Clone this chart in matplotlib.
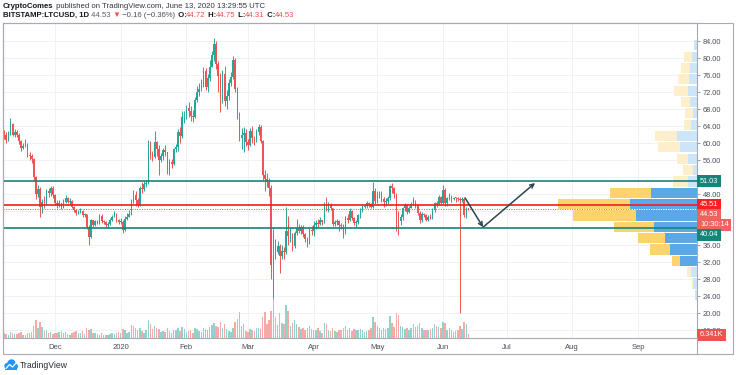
import matplotlib
matplotlib.use('Agg')
import matplotlib.pyplot as plt
import matplotlib.dates as mdates
import matplotlib.transforms as mtransforms
from matplotlib.patches import Rectangle, Circle
from matplotlib.lines import Line2D
from matplotlib.ticker import FixedLocator, FixedFormatter, FuncFormatter
import numpy as np
import pandas as pd

plt.rcParams['font.family'] = ['Liberation Sans', 'DejaVu Sans']

# BITSTAMP:LTCUSD daily candles, 7 Nov 2019 .. 13 Jun 2020
dates = pd.date_range('2019-11-07', '2020-06-13', freq='D')
first_open = 62.6

close_nov = [62.0, 60.8, 62.2, 64.5, 62.0, 62.6, 62.0, 60.4, 58.8, 59.4, 59.8, 57.2, 57.0, 56.2, 52.0, 48.0,
             49.2, 45.0, 46.2, 45.8, 48.6, 48.2, 49.4, 47.8]
high_nov = [63.0, 62.5, 62.8, 66.0, 64.8, 63.4, 63.0, 62.3, 60.6, 60.0, 61.0, 60.0, 58.0, 57.5, 56.5, 52.3,
            50.2, 49.6, 46.8, 47.5, 49.2, 49.5, 50.0, 49.8]
low_nov = [61.0, 60.0, 60.5, 61.8, 61.6, 61.5, 61.5, 59.8, 58.2, 58.6, 59.0, 56.6, 56.0, 55.3, 51.0, 46.8,
           47.2, 42.5, 43.5, 44.8, 45.5, 47.4, 47.6, 47.0]

close_dec = [46.0, 45.4, 45.8, 45.0, 46.2, 47.0, 46.2, 46.4, 45.0, 44.2, 43.6, 43.9, 44.0, 43.0, 43.2, 40.2,
             37.8, 41.8, 40.8, 41.6, 41.2, 42.8, 41.6, 41.4, 40.6, 40.9, 41.9, 42.7, 43.4, 41.8, 41.4]
high_dec = [48.0, 46.5, 46.6, 46.0, 46.8, 47.8, 47.2, 47.0, 46.6, 45.2, 44.4, 44.3, 44.6, 44.2, 43.6, 43.3,
            40.6, 42.2, 42.0, 42.0, 41.8, 43.4, 43.2, 42.0, 41.6, 41.4, 42.3, 43.1, 44.0, 43.6, 42.2]
low_dec = [45.5, 44.6, 45.0, 44.4, 44.8, 46.0, 45.8, 45.6, 44.6, 43.7, 43.1, 43.2, 43.5, 42.6, 42.7, 39.7,
           36.0, 37.6, 40.3, 40.5, 40.9, 41.0, 41.2, 40.9, 40.0, 40.3, 40.6, 41.7, 42.6, 41.5, 40.9]

close_jan = [41.5, 39.6, 42.2, 42.7, 43.2, 46.3, 47.7, 46.6, 45.5, 49.3, 49.2, 50.4, 50.6, 58.4, 57.4, 56.8,
             60.2, 58.6, 56.0, 57.0, 58.3, 57.8, 53.8, 55.5, 55.0, 58.5, 59.0, 62.6, 61.6, 66.2, 66.4]
high_jan = [42.4, 41.8, 42.8, 43.5, 44.2, 46.8, 49.0, 48.6, 47.0, 50.0, 50.8, 51.0, 51.2, 60.8, 60.5, 58.2,
            62.8, 60.5, 59.5, 57.6, 58.8, 59.5, 57.8, 56.2, 56.2, 58.8, 59.8, 63.4, 63.8, 67.5, 67.6]
low_jan = [40.9, 38.8, 39.2, 41.8, 42.5, 43.0, 45.8, 45.2, 45.0, 45.2, 48.2, 48.6, 49.6, 50.4, 56.2, 55.8,
           56.5, 56.9, 52.5, 55.5, 56.0, 57.0, 52.8, 52.5, 54.2, 54.8, 57.8, 58.2, 60.0, 61.2, 64.8]

close_feb = [68.3, 67.6, 66.4, 66.2, 70.2, 72.0, 72.6, 74.0, 77.0, 73.2, 75.4, 78.0, 80.6, 83.2, 78.6, 75.8,
             70.6, 76.2, 69.8, 71.0, 74.2, 75.6, 79.6, 72.6, 66.8, 61.2, 61.8, 62.4, 60.2]
high_feb = [69.0, 69.6, 68.8, 67.8, 70.8, 73.4, 74.2, 75.0, 78.0, 77.6, 76.2, 79.6, 81.6, 84.6, 84.0, 79.2,
            76.4, 77.2, 78.2, 72.4, 75.0, 76.6, 80.4, 80.0, 73.2, 67.4, 63.6, 63.8, 63.4]
low_feb = [65.6, 66.2, 65.2, 65.0, 65.8, 69.6, 71.0, 72.2, 73.2, 72.4, 72.0, 74.6, 77.8, 79.4, 77.4, 72.0,
           67.2, 69.4, 68.8, 68.0, 70.2, 73.4, 75.0, 72.0, 65.6, 60.4, 58.6, 58.0, 59.2]

close_mar = [59.6, 62.8, 61.2, 60.6, 62.6, 63.8, 60.4, 52.4, 51.6, 50.8, 49.4, 31.2, 36.8, 34.4, 35.8, 33.4,
             34.6, 34.4, 39.2, 38.2, 38.4, 35.8, 38.8, 40.0, 39.4, 40.2, 38.6, 37.4, 36.4, 39.6, 39.2]
high_mar = [61.0, 63.6, 64.0, 61.6, 63.2, 64.4, 64.2, 60.6, 53.6, 53.0, 51.8, 50.2, 40.0, 37.4, 37.0, 36.2,
            36.0, 35.6, 45.0, 42.8, 40.0, 38.8, 39.4, 42.2, 41.0, 40.8, 40.6, 38.8, 37.8, 40.0, 40.4]
low_mar = [58.4, 59.2, 60.0, 59.6, 60.2, 62.0, 60.0, 51.4, 48.6, 49.6, 47.6, 28.0, 23.6, 32.6, 34.0, 29.4,
           32.6, 32.8, 33.8, 36.0, 36.8, 34.6, 35.2, 38.4, 38.8, 38.6, 37.8, 36.8, 35.6, 36.2, 38.4]

close_apr = [40.6, 41.2, 41.0, 41.9, 41.4, 45.8, 44.4, 45.6, 44.6, 41.0, 41.3, 41.6, 40.8, 40.5, 39.0, 42.4,
             42.0, 44.0, 42.4, 41.2, 41.3, 43.0, 44.2, 44.9, 45.2, 45.8, 45.6, 45.0, 48.8, 46.3]
high_apr = [41.6, 41.8, 42.2, 42.6, 42.0, 46.2, 47.4, 46.2, 45.8, 44.8, 41.9, 42.2, 41.8, 41.2, 41.0, 42.8,
            43.2, 44.8, 44.2, 42.6, 42.0, 43.4, 44.8, 45.4, 45.6, 46.4, 46.2, 46.0, 50.8, 49.4]
low_apr = [38.2, 39.8, 40.2, 40.6, 40.8, 41.2, 44.0, 43.8, 44.2, 40.4, 40.4, 40.8, 39.4, 39.8, 37.6, 38.6,
           41.2, 41.6, 42.0, 40.6, 40.2, 41.0, 42.4, 43.8, 44.6, 44.8, 45.0, 44.6, 44.8, 45.6]

close_may = [47.6, 48.2, 46.9, 46.1, 46.3, 47.0, 49.8, 49.4, 48.0, 43.2, 41.6, 42.6, 44.6, 45.4, 43.8, 44.8,
             45.7, 46.3, 45.3, 43.6, 41.8, 43.2, 43.1, 42.0, 42.7, 42.5, 44.2, 45.8, 45.6, 47.3, 46.0]
high_may = [48.6, 48.8, 48.8, 47.2, 47.0, 47.6, 50.2, 50.6, 49.6, 48.2, 44.0, 43.2, 45.0, 46.0, 45.6, 45.2,
            46.2, 47.2, 46.6, 45.6, 44.0, 43.8, 43.6, 43.4, 43.0, 43.4, 44.6, 46.2, 46.4, 47.8, 47.6]
low_may = [46.0, 47.0, 46.2, 45.0, 45.2, 45.6, 46.6, 48.2, 47.0, 39.4, 38.4, 40.8, 42.0, 44.0, 43.2, 43.6,
           44.6, 45.4, 44.6, 43.0, 41.2, 41.4, 42.6, 41.6, 41.6, 42.2, 42.2, 43.8, 45.0, 45.4, 45.6]

close_jun = [49.0, 45.8, 47.0, 47.4, 46.8, 47.1, 47.0, 46.9, 46.6, 46.8, 43.0, 44.7, 44.53]
high_jun = [50.2, 49.4, 47.4, 48.2, 47.8, 47.4, 47.4, 47.4, 47.2, 47.2, 47.0, 45.0, 44.75]
low_jun = [45.6, 45.2, 45.2, 46.6, 46.2, 46.6, 46.2, 46.4, 20.0, 46.2, 42.6, 42.4, 44.31]

# daily volume, thousands
vol_nov = [8, 6, 5, 9, 7, 6, 6, 8, 9, 5, 4, 8, 7, 9, 18, 27, 14, 24, 16, 10, 12, 8, 9, 6]
vol_dec = [7, 8, 9, 10, 8, 9, 6, 5, 8, 9, 10, 8, 7, 10, 6, 14, 12, 13, 8, 7, 6, 5, 7, 5, 4, 5, 6, 7, 6, 8, 9]
vol_jan = [7, 13, 12, 8, 9, 19, 17, 15, 11, 14, 10, 8, 11, 27, 20, 13, 18, 14, 13, 9, 10, 9, 14, 10, 8, 11,
           12, 15, 10, 16, 13]
vol_feb = [9, 10, 12, 8, 15, 13, 10, 9, 14, 13, 12, 16, 19, 22, 17, 16, 24, 14, 20, 13, 10, 9, 14, 24, 28,
           38, 18, 20, 10]
vol_mar = [9, 13, 12, 10, 14, 15, 13, 30, 38, 20, 26, 40, 98, 30, 19, 36, 22, 21, 48, 40, 18, 22, 26, 20,
           16, 13, 14, 12, 15, 17, 13]
vol_apr = [12, 11, 14, 10, 8, 22, 20, 12, 10, 15, 10, 9, 11, 12, 14, 18, 12, 14, 10, 13, 11, 12, 13, 12, 9,
           10, 11, 14, 30, 24]
vol_may = [17, 14, 12, 14, 13, 15, 32, 22, 16, 36, 33, 18, 16, 13, 14, 12, 14, 20, 16, 18, 22, 14, 12, 11,
           12, 13, 14, 20, 18, 16, 15]
vol_jun = [24, 22, 12, 14, 11, 9, 10, 12, 18, 13, 24, 20, 6.341]

# volume profile (visible range): rows from the bottom up
vp_bottom = 23.06
vp_step = 2.67
vp_up = [2, 4, 6, 17, 27, 32, 43, 61, 67, 46, 9, 4, 9, 17, 20, 6, 4, 7, 9, 8, 7, 5, 3]
vp_down = [0, 1, 4, 8, 20, 27, 40, 63, 72, 41, 15, 10, 11, 22, 22, 7, 8, 9, 14, 11, 9, 8, 0]
value_area = (31.0, 49.8)

# drawn levels and the forecast arrows
support_res = [51.03, 40.04]
red_level = 45.51
last_price = 44.53
arrow_path = [('2020-06-11 09:00', 47.1), ('2020-06-19 22:00', 40.2), ('2020-07-14 10:00', 50.6)]

month_ticks = ['2019-12-01', '2020-01-01', '2020-02-01', '2020-03-01', '2020-04-01', '2020-05-01',
               '2020-06-01', '2020-07-01', '2020-08-01', '2020-09-01']
month_labels = ['Dec', '2020', 'Feb', 'Mar', 'Apr', 'May', 'Jun', 'Jul', 'Aug', 'Sep']
hidden_price_labels = [40, 44]   # covered by the price tags

closes = close_nov + close_dec + close_jan + close_feb + close_mar + close_apr + close_may + close_jun
highs = high_nov + high_dec + high_jan + high_feb + high_mar + high_apr + high_may + high_jun
lows = low_nov + low_dec + low_jan + low_feb + low_mar + low_apr + low_may + low_jun
volumes = vol_nov + vol_dec + vol_jan + vol_feb + vol_mar + vol_apr + vol_may + vol_jun

UP = '#26a69a'
DOWN = '#ef5350'
TEAL = '#15857a'
GRID = '#eef1f6'
FRAME = '#a7aab2'
TXT = '#131722'

W, H = 736, 375
fig = plt.figure(figsize=(W / 100, H / 100), dpi=100)
ax = fig.add_axes([3 / W, 1 - 338 / H, 694 / W, 315 / H])

x = mdates.date2num(dates)
c = np.array(closes)
o = np.array([first_open] + closes[:-1])
hi = np.maximum(np.array(highs), np.maximum(o, c))
lo = np.minimum(np.array(lows), np.minimum(o, c))
rising = c >= o

# volume profile, anchored to the right edge
vp_trans = mtransforms.blended_transform_factory(ax.transAxes, ax.transData)
vp_span = 5.0 * max(u + d for u, d in zip(vp_up, vp_down))
rows = vp_bottom + vp_step * np.arange(len(vp_up))
up_w = np.array(vp_up) / vp_span
dn_w = np.array(vp_down) / vp_span
in_va = (rows >= value_area[0]) & (rows + vp_step <= value_area[1])
ax.barh(rows, up_w, left=1 - up_w, height=vp_step * 0.9, align='edge',
        color=np.where(in_va, '#5aa9e6', '#cde5f8'), lw=0, transform=vp_trans, zorder=1)
ax.barh(rows, dn_w, left=1 - up_w - dn_w, height=vp_step * 0.9, align='edge',
        color=np.where(in_va, '#fdd36e', '#fcefc9'), lw=0, transform=vp_trans, zorder=1)

# volume bars at the bottom
VOL_TOP = 460.0
vol_trans = mtransforms.blended_transform_factory(ax.transData, ax.transAxes)
ax.bar(x, np.array(volumes) / VOL_TOP, width=0.7, bottom=0,
       color=np.where(rising, '#92d2cc', '#f7a9a7'), lw=0, transform=vol_trans, zorder=2)

# candles
cols = np.where(rising, UP, DOWN)
ax.vlines(x, lo, hi, colors=cols, lw=0.7, zorder=3)
ax.bar(x, np.maximum(np.abs(c - o), 0.2), bottom=np.minimum(o, c), width=0.7, color=cols, lw=0, zorder=4)

# horizontal levels
for lvl in support_res:
    ax.axhline(lvl, color=TEAL, lw=1.2, zorder=5)
ax.axhline(red_level, color='#f01d1d', lw=1.2, zorder=5)
ax.axhline(last_price, color=DOWN, lw=0.7, ls=(0, (1, 1.5)), zorder=5)

# forecast arrows
pts = [(mdates.date2num(pd.Timestamp(d)), p) for d, p in arrow_path]
for a, b in zip(pts[:-1], pts[1:]):
    ax.annotate('', xy=b, xytext=a,
                arrowprops=dict(arrowstyle='->', color='#2b4650', lw=1.1, shrinkA=0, shrinkB=0,
                                mutation_scale=7), zorder=6)

# axes
ax.set_xlim(mdates.date2num(pd.Timestamp('2019-11-06 12:00')), mdates.date2num(pd.Timestamp('2020-09-28 19:00')))
ax.set_ylim(14.12, 88.24)
ax.set_axisbelow(True)
ax.xaxis.set_major_locator(FixedLocator(mdates.date2num(pd.to_datetime(month_ticks))))
ax.xaxis.set_major_formatter(FixedFormatter(month_labels))
ax.set_yticks(np.arange(16, 85, 4))
ax.yaxis.set_major_formatter(FuncFormatter(
    lambda v, p: '' if round(v) in hidden_price_labels else f'{v:.2f}'))
ax.yaxis.tick_right()
ax.tick_params(axis='x', length=0, pad=4, labelsize=5.5, labelcolor='#4a4e58')
ax.tick_params(axis='y', length=2.5, width=0.6, color='#8a8d95', pad=1.5, labelsize=5.3, labelcolor='#4a4e58')
ax.grid(True, color=GRID, lw=0.7)
for sp in ax.spines.values():
    sp.set_color(FRAME)
    sp.set_linewidth(0.8)

# price / volume tags on the scale
tags = [(support_res[0], 0, '51.03', TEAL),
        (red_level, 0, '45.51', '#ff1f1f'),
        (last_price, -6, '44.53', '#f0625f'),
        (last_price, -16, '10:30:14', '#f0625f'),
        (support_res[1], -7, '40.04', TEAL)]
for price, dy, label, colr in tags:
    ax.annotate(label, xy=(1, price), xycoords=vp_trans, xytext=(3, dy), textcoords='offset pixels',
                ha='left', va='center', fontsize=5.3, color='white', annotation_clip=False, zorder=10,
                bbox=dict(boxstyle='square,pad=0.35', fc=colr, ec='none'))
ax.annotate(f'{volumes[-1]:.3f}K', xy=(1, volumes[-1] / VOL_TOP), xycoords='axes fraction',
            xytext=(3, -1), textcoords='offset pixels', ha='left', va='center', fontsize=5.3, color='white',
            annotation_clip=False, zorder=10, bbox=dict(boxstyle='square,pad=0.35', fc='#ef5350', ec='none'))

# outer frame and price-scale divider
fig.add_artist(Rectangle((3 / W, 1 - 354 / H), 730 / W, 331 / H, transform=fig.transFigure,
                         fill=False, ec=FRAME, lw=0.8))
fig.add_artist(Line2D([697 / W, 697 / W], [1 - 354 / H, 1 - 338 / H], transform=fig.transFigure,
                      color=FRAME, lw=0.8))

# header lines


def chain(parts, x0, y0):
    prev = None
    for s, colr, wt in parts:
        if prev is None:
            prev = ax.annotate(s, xy=(x0, y0), xycoords='figure pixels', va='center', ha='left',
                               fontsize=5.6, color=colr, weight=wt, annotation_clip=False)
        else:
            prev = ax.annotate(s, xy=(1, 0), xycoords=prev, va='bottom', ha='left',
                               fontsize=5.6, color=colr, weight=wt, annotation_clip=False)


chain([('CryptoComes', TXT, 'bold'),
       (' published on TradingView.com, June 13, 2020 13:29:55 UTC', '#333640', 'normal')], 3, H - 6.5)
chain([('BITSTAMP:LTCUSD, 1D', TXT, 'bold'),
       (' 44.53', '#5d606b', 'normal'),
       (' \u25bc', DOWN, 'normal'),
       (' \u22120.16 (\u22120.36%)', '#4a4e58', 'normal'),
       (' O:', TXT, 'bold'), ('44.72', DOWN, 'normal'),
       (' H:', TXT, 'bold'), ('44.75', DOWN, 'normal'),
       (' L:', TXT, 'bold'), ('44.31', DOWN, 'normal'),
       (' C:', TXT, 'bold'), ('44.53', DOWN, 'normal')], 3, H - 15.5)

# footer logo
ident = mtransforms.IdentityTransform()
for cx, cy, r in [(7.5, H - 366, 3.2), (11.5, H - 363.5, 4.2), (15.0, H - 366.5, 3.0)]:
    fig.add_artist(Circle((cx, cy), r, transform=ident, color='#2196f3', lw=0))
fig.add_artist(Rectangle((5, H - 370), 12, 4, transform=ident, color='#2196f3', lw=0))
fig.add_artist(Line2D([6, 9.5, 12.5, 16], [H - 368.5, H - 364.5, H - 367, H - 363], transform=ident,
                      color='white', lw=0.9))
ax.annotate('TradingView', xy=(20, H - 365.5), xycoords='figure pixels', va='center', ha='left',
            fontsize=6.2, color='#2a2e39', annotation_clip=False)

fig.savefig('out.png', dpi=100)
